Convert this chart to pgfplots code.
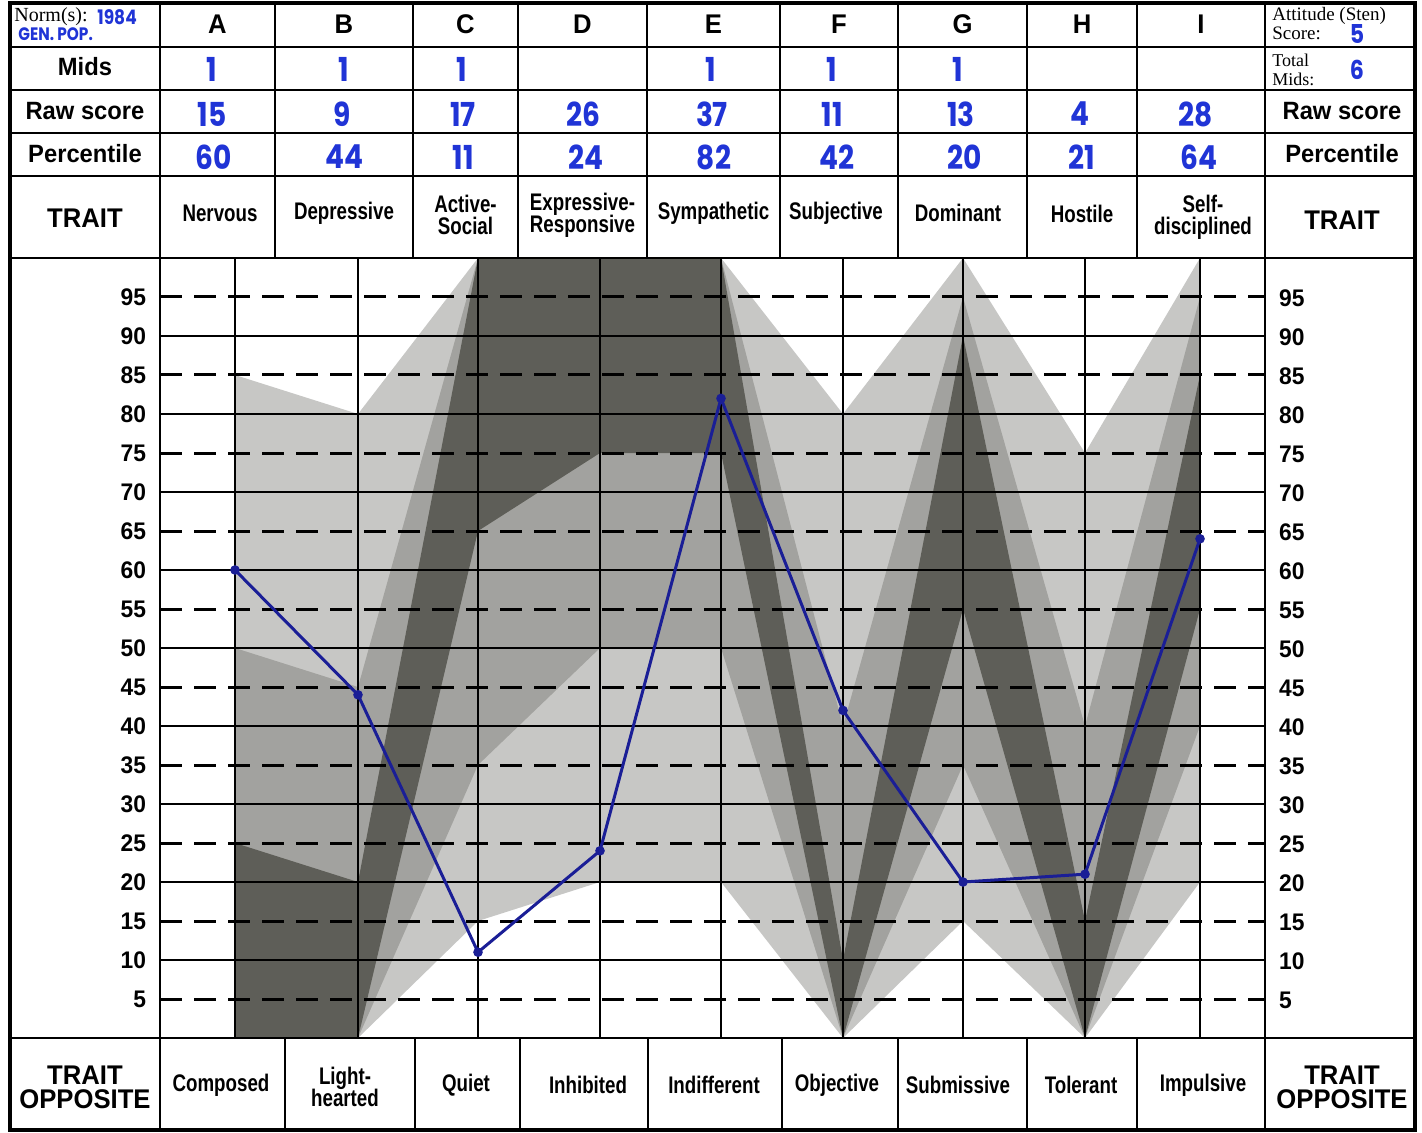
\documentclass[border=0pt]{standalone}
\usepackage{fontspec}
\usepackage{pgfplots}
\pgfplotsset{compat=1.18}
\setmainfont{Liberation Serif}
\newfontfamily\hv[FakeStretch=0.95]{Liberation Sans}
\newfontfamily\cond[FakeStretch=0.78]{Liberation Sans}
\newfontfamily\hand[FakeStretch=0.85]{Poppins}
\definecolor{ink}{RGB}{32,52,214}
\definecolor{pline}{RGB}{26,30,150}
\definecolor{shade}{RGB}{40,40,32}

\newcommand{\lab}{\hv\bfseries\fontsize{12.5}{14}\selectfont}
\newcommand{\hdr}{\hv\bfseries\fontsize{13.5}{15}\selectfont}
\newcommand{\trait}{\cond\bfseries\fontsize{12}{13}\selectfont}
\newcommand{\hw}{\hand\bfseries\fontsize{16.5}{17}\selectfont\color{ink}}
\newcommand{\tickfont}{\hv\bfseries\fontsize{12}{12}\selectfont}

\begin{document}
\begin{tikzpicture}
\begin{scope}[x=0.5pt, y=-0.5pt]
\useasboundingbox (0,0) rectangle (1422,1133);
\end{scope}

% shaded bands and the profile
\begin{axis}[
  set layers,
  at={(80pt,-519pt)}, anchor=south west,
  scale only axis, width=552.5pt, height=390pt,
  xmin=160, xmax=1265, ymin=0, ymax=100,
  axis line style={line width=1.2pt},
  xtick={235,358,478,600,721,843,963,1085,1200},
  xticklabels={},
  xmajorgrids, ymajorgrids,
  ytick={10,20,...,90},
  extra y ticks={5,15,...,95},
  extra y tick style={major grid style={black, line width=1.5pt, dash pattern=on 11pt off 6pt}},
  major grid style={black, line width=1.3pt},
  major tick length=0pt,
  yticklabel style={font=\tickfont, xshift=-3.5pt},
  /pgf/number format/assume math mode=true,
]
% band 1 (lightest)
\addplot[on layer=axis background, fill=shade, fill opacity=0.26, draw=none] coordinates {
  (235,85) (358,80) (478,100) (600,100) (721,100) (843,80) (963,100) (1085,75) (1200,100)
  (1200,20) (1085,0) (963,15) (843,0) (721,20) (600,20) (478,15) (358,0) (235,0)} -- cycle;
% band 2
\addplot[on layer=axis background, fill=shade, fill opacity=0.23, draw=none] coordinates {
  (235,50) (358,45) (478,100) (600,100) (721,100) (843,40) (963,95) (1085,40) (1200,95)
  (1200,40) (1085,0) (963,35) (843,0) (721,50) (600,50) (478,35) (358,0) (235,0)} -- cycle;
% band 3 (darkest)
\addplot[on layer=axis background, fill=shade, fill opacity=0.56, draw=none] coordinates {
  (235,25) (358,20) (478,100) (600,100) (721,100) (843,10) (963,90) (1085,15) (1200,85)
  (1200,55) (1085,0) (963,55) (843,0) (721,75) (600,75) (478,65) (358,0) (235,0)} -- cycle;
% percentile profile
\addplot[color=pline, line width=1.5pt, mark=*, mark size=1.6pt] coordinates {
  (235,60) (358,44) (478,11) (600,24) (721,82) (843,42) (963,20) (1085,21) (1200,64)};
\end{axis}

\begin{scope}[x=0.5pt, y=-0.5pt]
% right tick labels
\foreach \v in {5,10,...,95}
  \node[font=\tickfont, anchor=west] at (1272,{1039-7.8*\v}) {\v};

% table frame
\draw[line width=1.6pt] (10,3) rectangle (1415,1130);
\foreach \y in {47,90,133,176,258,1038}
  \draw[line width=1.2pt] (10,\y) -- (1415,\y);
\foreach \x in {160,275,413,518,647,780,898,1027,1137,1265}
  \draw[line width=1.2pt] (\x,3) -- (\x,258);
\foreach \x in {160,285,415,520,648,782,898,1027,1137,1265}
  \draw[line width=1.2pt] (\x,1038) -- (\x,1130);

% column letters
\foreach \x/\l in {217.5/A,344/B,465.5/C,582.5/D,713.5/E,839/F,962.5/G,1082/H,1201/I}
  \node[font=\hdr] at (\x,24) {\l};

% left labels
\node[font=\lab] at (85,67) {Mids};
\node[font=\lab] at (85,111) {Raw score};
\node[font=\lab] at (85,154) {Percentile};
\node[font=\hdr] at (85,218) {TRAIT};
\node[font=\hdr, align=center] at (85,1087) {TRAIT\\[-3pt]OPPOSITE};

% right labels
\node[font=\lab] at (1342,111) {Raw score};
\node[font=\lab] at (1342,154) {Percentile};
\node[font=\hdr] at (1342,220) {TRAIT};
\node[font=\hdr, align=center] at (1342,1087) {TRAIT\\[-3pt]OPPOSITE};

% norm and attitude cells
\node[anchor=west, font=\fontsize{10}{10}\selectfont, inner sep=0pt] at (14,17) {Norm(s):};
\node[anchor=west, font=\hand\bfseries\fontsize{10}{10}\selectfont\color{ink}, inner sep=0pt] at (97,17) {1984};
\node[anchor=west, font=\hand\bfseries\fontsize{9}{9}\selectfont\color{ink}, inner sep=0pt] at (18,34) {GEN. POP.};
\node[anchor=west, font=\fontsize{9.5}{9.5}\selectfont, inner sep=0pt] at (1272,16) {Attitude (Sten)};
\node[anchor=west, font=\fontsize{9.5}{9.5}\selectfont, inner sep=0pt] at (1272,33) {Score:};
\node[font=\hand\bfseries\fontsize{13}{13}\selectfont\color{ink}] at (1357,34) {5};
\node[anchor=west, font=\fontsize{9}{9}\selectfont, inner sep=0pt] at (1272,60) {Total};
\node[anchor=west, font=\fontsize{9}{9}\selectfont, inner sep=0pt] at (1272,79) {Mids:};
\node[font=\hand\bfseries\fontsize{13}{13}\selectfont\color{ink}] at (1357,70) {6};

% handwritten entries
\foreach \x in {212,344,462,711,832,958}
  \node[font=\hw] at (\x,69) {1};
\foreach \x/\v in {212/15,342/9,463/17,583/26,712/37,832/11,961/13,1080/4,1196/28}
  \node[font=\hw] at (\x,114) {\v};
\foreach \x/\v in {214/60,344/44,463/11,586/24,714/82,837/42,965/20,1082/21,1199/64}
  \node[font=\hw] at (\x,157) {\v};

% trait names
\node[font=\trait] at (220,213) {Nervous};
\node[font=\trait] at (344,213) {Depressive};
\node[font=\trait, align=center] at (465.5,215) {Active-\\[-2pt]Social};
\node[font=\trait, align=center] at (582.5,215) {Expressive-\\[-2pt]Responsive};
\node[font=\trait] at (713.5,213) {Sympathetic};
\node[font=\trait] at (836,213) {Subjective};
\node[font=\trait] at (958,213) {Dominant};
\node[font=\trait] at (1082,214) {Hostile};
\node[font=\trait, align=center] at (1203,217) {Self-\\[-2pt]disciplined};

% trait opposites
\node[font=\trait] at (221,1085) {Composed};
\node[font=\trait, align=center] at (345,1087) {Light-\\[-2pt]hearted};
\node[font=\trait] at (466,1085) {Quiet};
\node[font=\trait] at (588,1085) {Inhibited};
\node[font=\trait] at (714,1085) {Indifferent};
\node[font=\trait] at (837,1085) {Objective};
\node[font=\trait] at (958,1085) {Submissive};
\node[font=\trait] at (1081,1085) {Tolerant};
\node[font=\trait] at (1203,1085) {Impulsive};
\end{scope}
\end{tikzpicture}
\end{document}
